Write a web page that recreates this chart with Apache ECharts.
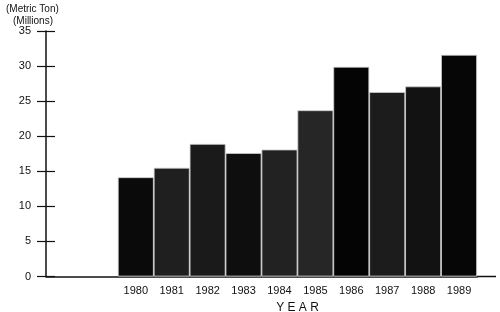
<!DOCTYPE html>
<html><head><meta charset="utf-8">
<script src="https://cdn.jsdelivr.net/npm/echarts@6/dist/echarts.min.js"></script>
<style>html,body{margin:0;padding:0;background:#fff}#c{width:500px;height:312px}</style>
</head><body><div id="c"></div>
<script>
var categories = ['', '', '1980', '1981', '1982', '1983', '1984', '1985', '1986', '1987', '1988', '1989'];
var values = [null, null, 14.15, 15.5, 18.9, 17.6, 18.1, 23.7, 29.9, 26.3, 27.1, 31.6];
var yTicks = [0, 5, 10, 15, 20, 25, 30, 35];
var barShades = ['#111', '#111', '#0a0a0a', '#1f1f1f', '#1a1a1a', '#0e0e0e', '#222', '#262626', '#040404', '#1c1c1c', '#121212', '#060606'];

var chart = echarts.init(document.getElementById('c'), null, {renderer: 'canvas'});
var font = 'Liberation Sans, Arial, sans-serif';
var yCommon = {
  type: 'value', min: yTicks[0], max: yTicks[yTicks.length - 1], interval: 5,
  splitLine: {show: false}, position: 'left'
};
chart.setOption({
  animation: false,
  grid: {left: 46, right: 23, top: 31, bottom: 35.5, containLabel: false, outerBoundsMode: 'none'},
  title: [
    {text: '(Metric Ton)', left: 1, top: -1, textStyle: {fontSize: 10, fontWeight: 'normal', color: '#111', fontFamily: font}},
    {text: '(Millions)', left: 8, top: 11, textStyle: {fontSize: 10, fontWeight: 'normal', color: '#111', fontFamily: font}}
  ],
  xAxis: {
    type: 'category', data: categories,
    axisLine: {lineStyle: {color: '#111', width: 1.5}},
    axisTick: {show: false},
    axisLabel: {color: '#111', fontSize: 11, fontFamily: font, margin: 9, interval: 0},
    name: 'Y E A R', nameLocation: 'middle', nameGap: 22,
    nameTextStyle: {color: '#111', fontSize: 12, fontFamily: font, padding: [0, 0, 0, 72]}
  },
  yAxis: [
    Object.assign({}, yCommon, {
      axisLine: {show: true, lineStyle: {color: '#111', width: 1.5}},
      axisTick: {show: true, length: 9, lineStyle: {color: '#111', width: 1.2}},
      axisLabel: {color: '#111', fontSize: 11, fontFamily: font, margin: 15}
    }),
    Object.assign({}, yCommon, {
      axisLine: {show: false},
      axisTick: {show: true, inside: true, length: 9, lineStyle: {color: '#111', width: 1.2}},
      axisLabel: {show: false}
    })
  ],
  series: [{
    type: 'bar', data: values, barCategoryGap: '0%',
    itemStyle: {
      color: function (p) { return barShades[p.dataIndex]; },
      borderColor: '#cfcfcf', borderWidth: 0.8
    }
  }]
});
var y0 = chart.convertToPixel({yAxisIndex: 0}, 0);
var xr = chart.convertToPixel({xAxisIndex: 0}, '1989') + 18;
chart.setOption({graphic: [{type: 'line', shape: {x1: xr, y1: y0, x2: 496, y2: y0}, style: {stroke: '#111', lineWidth: 1.5}}]});
</script></body></html>
